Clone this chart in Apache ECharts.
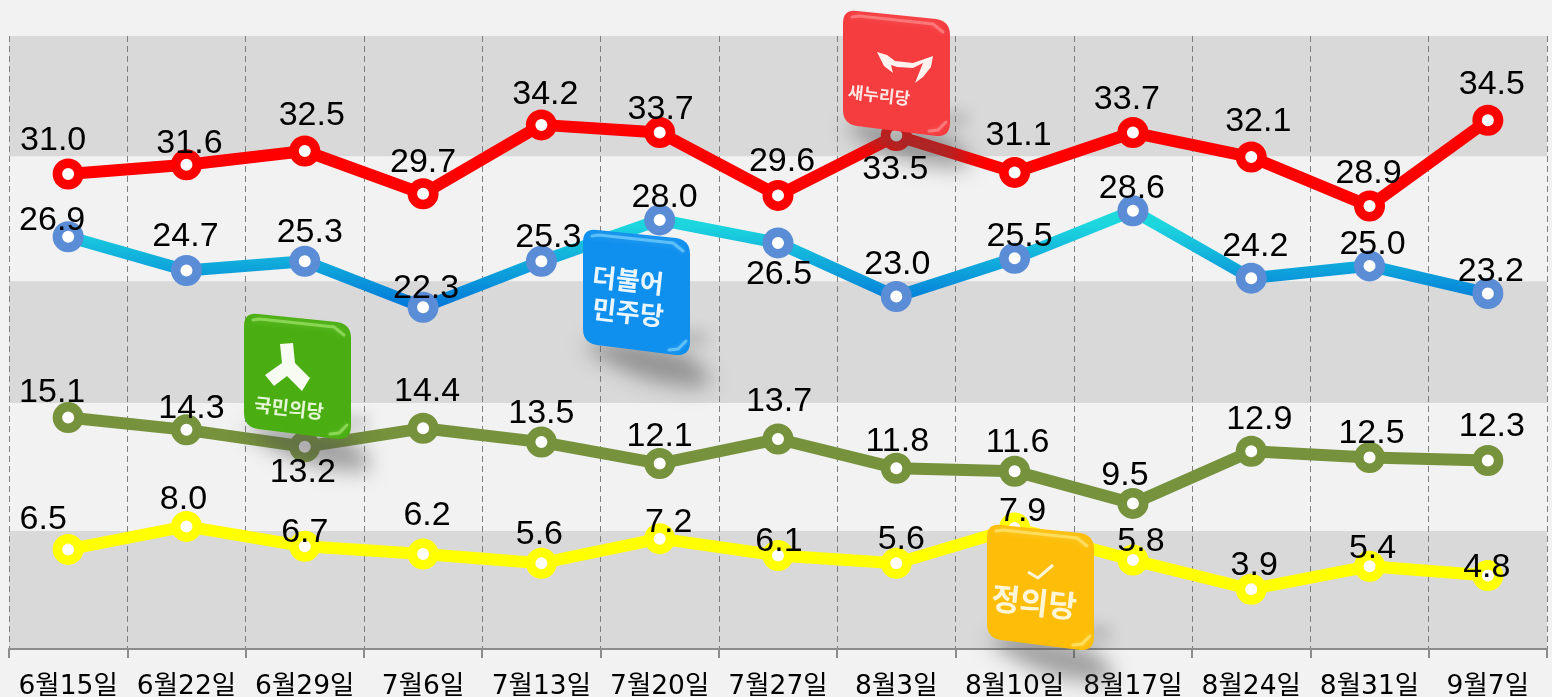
<!DOCTYPE html>
<html>
<head>
<meta charset="utf-8">
<style>
  html, body { margin: 0; padding: 0; background: #f2f2f2; }
  #myChart { width: 1552px; height: 697px; }
</style>
<script src="https://cdn.jsdelivr.net/npm/echarts@6/dist/echarts.min.js"></script>
</head>
<body>
<div id="myChart"></div>
<script>
// 날짜
var dates = ['6월15일', '6월22일', '6월29일', '7월6일', '7월13일', '7월20일', '7월27일', '8월3일', '8월10일', '8월17일', '8월24일', '8월31일', '9월7일']
// 정당 지지율
var saenuri = [31.0, 31.6, 32.5, 29.7, 34.2, 33.7, 29.6, 33.5, 31.1, 33.7, 32.1, 28.9, 34.5]
var minjoo = [26.9, 24.7, 25.3, 22.3, 25.3, 28.0, 26.5, 23.0, 25.5, 28.6, 24.2, 25.0, 23.2]
var kookmin = [15.1, 14.3, 13.2, 14.4, 13.5, 12.1, 13.7, 11.8, 11.6, 9.5, 12.9, 12.5, 12.3]
var justice = [6.5, 8.0, 6.7, 6.2, 5.6, 7.2, 6.1, 5.6, 7.9, 5.8, 3.9, 5.4, 4.8]
// 회색 배경 띠 구간 (값 기준)
var bandLow = [0, 16.05, 32.15]
var bandHigh = [7.7, 24, 40]

// 라벨 위치 보정 (점 중심 기준 px)
var saenuriOffset = [[-15, -33], [3, -21], [7, -35], [0, -31], [4, -30], [1, -23], [4, -34], [-1, 34], [4, -37], [-6, -33], [7, -35], [-1, -32], [4, -36]]
var minjooOffset = [[-16, -16], [-1, -34], [5, -29], [3, -19], [7, -24], [5, -22], [1, 32], [1, -32], [5, -22], [-1, -22], [4, -32], [3, -21], [3, -22]]
var kookminOffset = [[-16, -25], [5, -21], [-2, 26], [4, -37], [0, -28], [0, -27], [1, -37], [1, -27], [3, -29], [-8, -28], [8, -32], [2, -24], [4, -34]]
var justiceOffset = [[-25, -30], [-3, -27], [0, -14], [4, -38], [-2, -29], [9, -16], [1, -14], [5, -24], [8, -16], [8, -18], [3, -24], [3, -18], [-1, -8]]

// 선 + 마커
function lineSeries(name, values, lineColor, markColor) {
  return {
    name: name,
    type: 'line',
    data: values,
    z: 2,
    symbol: 'circle',
    symbolSize: 21.5,
    showAllSymbol: true,
    lineStyle: { color: lineColor, width: 12 },
    itemStyle: { color: '#fff', borderColor: markColor, borderWidth: 9.5, opacity: 1 },
    animation: false,
  }
}

// 로고 위에 올라오는 숫자 라벨
function labelSeries(values, offsets) {
  return {
    type: 'scatter',
    z: 10,
    symbolSize: 1,
    itemStyle: { color: 'transparent', opacity: 1 },
    animation: false,
    silent: true,
    data: values.map(function (v, i) {
      return { value: v, label: { offset: offsets[i] } }
    }),
    label: {
      show: true,
      position: 'inside',
      color: '#000',
      textBorderWidth: 0,
      fontFamily: 'Liberation Sans',
      fontSize: 34,
      formatter: function (p) {
        return p.value.toFixed(1)
      },
    },
  }
}

// 배경 띠
function bandSeries() {
  return {
    type: 'custom',
    z: -1,
    silent: true,
    data: bandLow.map(function (low, i) {
      return [low, bandHigh[i]]
    }),
    encode: { y: [0, 1] },
    renderItem: function (params, api) {
      var bottom = api.coord([0, api.value(0)])[1]
      var top = api.coord([0, api.value(1)])[1]
      return {
        type: 'rect',
        shape: { x: params.coordSys.x, y: top, width: params.coordSys.width, height: bottom - top },
        style: { fill: '#d9d9d9' },
      }
    },
  }
}

// 둥근 모서리 평행사변형
function badgePoints() {
  var ctrl = [
    [0, 14], [0, 0], [14, 2],
    [93, 10], [107, 12], [107, 26],
    [107, 114], [107, 128], [93, 127],
    [14, 117], [0, 115], [0, 101],
  ]
  var pts = []
  for (var i = 0; i < ctrl.length; i += 3) {
    for (var k = 0; k <= 6; k++) {
      var t = k / 6
      var a = (1 - t) * (1 - t), b = 2 * t * (1 - t), c = t * t
      pts.push([
        a * ctrl[i][0] + b * ctrl[i + 1][0] + c * ctrl[i + 2][0],
        a * ctrl[i][1] + b * ctrl[i + 1][1] + c * ctrl[i + 2][1],
      ])
    }
  }
  return pts
}

function badgeText(text, x, y, size, color) {
  return {
    type: 'text',
    x: x,
    y: y,
    rotation: -0.11,
    z: 6,
    style: {
      text: text,
      fill: color,
      textAlign: 'center',
      textVerticalAlign: 'middle',
      font: 'bold ' + size + 'px "Noto Sans CJK KR"',
    },
  }
}

function badge(x, y, color, topColor, children) {
  var items = [
    // 그림자 (도형은 화면 밖, 번진 그림자만 보이게)
    {
      type: 'polygon',
      x: -3000,
      z: 3,
      shape: { points: [[4, 116], [97, 124], [126, 156], [60, 150]], smooth: 0.4 },
      style: { fill: '#555', shadowBlur: 20, shadowOffsetX: 3000, shadowColor: 'rgba(80,80,80,0.5)' },
    },
    {
      type: 'polygon',
      x: -3000,
      z: 3,
      shape: { points: [[100, 100], [125, 104], [125, 116], [100, 118]] },
      style: { fill: '#555', shadowBlur: 14, shadowOffsetX: 3000, shadowColor: 'rgba(80,80,80,0.22)' },
    },
    {
      type: 'polygon',
      z: 4,
      shape: { points: badgePoints() },
      style: { fill: color },
    },
    // 윗면 하이라이트
    {
      type: 'polyline',
      z: 5,
      shape: { points: [[9, 8], [16, 7], [90, 15], [100, 23]] },
      style: { stroke: topColor, lineWidth: 3, fill: 'none', lineCap: 'round', shadowBlur: 6, shadowColor: topColor },
    },
    {
      type: 'polyline',
      z: 5,
      shape: { points: [[86, 122], [95, 121], [103, 113]] },
      style: { stroke: topColor, lineWidth: 3, fill: 'none', lineCap: 'round', shadowBlur: 4, shadowColor: topColor },
    },
  ]
  return { type: 'group', x: x, y: y, children: items.concat(children) }
}

var myChart = echarts.init(document.getElementById('myChart'))
myChart.setOption({
  backgroundColor: '#f2f2f2',
  animation: false,
  grid: { left: 9, right: 5, top: 36, bottom: 48, outerBoundsMode: 'none' },
  xAxis: {
    type: 'category',
    data: dates,
    axisLine: { lineStyle: { color: '#8c8c8c', width: 2 } },
    axisTick: { show: true, length: 9, lineStyle: { color: '#8c8c8c', width: 2 } },
    axisLabel: {
      interval: 0,
      margin: 25,
      color: '#000',
      fontSize: 26.5,
      fontFamily: '"DejaVu Sans", "Noto Sans CJK KR"',
    },
    splitLine: { show: true, interval: 0, lineStyle: { color: '#7f7f7f', type: [6, 4], width: 1 } },
  },
  yAxis: {
    type: 'value',
    min: 0,
    max: 40,
    interval: 8,
    axisLine: { show: false },
    axisTick: { show: false },
    axisLabel: { show: false },
    splitLine: { show: false },
  },
  series: [
    bandSeries(),
    lineSeries('새누리당', saenuri, '#ff0000', '#ff0000'),
    lineSeries('더불어민주당', minjoo, new echarts.graphic.LinearGradient(0, 0, 0, 1, [
      { offset: 0, color: '#1ce0d8' },
      { offset: 0.2, color: '#1cd4de' },
      { offset: 1, color: '#0070d8' },
    ]), '#5b8cd6'),
    lineSeries('국민의당', kookmin, '#76923c', '#76923c'),
    lineSeries('정의당', justice, '#ffff00', '#ffff00'),
    labelSeries(saenuri, saenuriOffset),
    labelSeries(minjoo, minjooOffset),
    labelSeries(kookmin, kookminOffset),
    labelSeries(justice, justiceOffset),
  ],
  // 정당 로고
  graphic: [
    badge(843, 9, '#f53c3f', 'rgba(255,170,170,0.5)', [
      {
        type: 'polygon',
        z: 6,
        shape: { points: [[34, 43], [44, 46], [52, 52], [70, 54], [90, 47], [88, 58], [80, 68], [72, 74], [76, 64], [80, 54], [70, 59], [54, 58], [48, 56], [50, 64], [41, 57]] },
        style: { fill: '#fff2ee' },
      },
      badgeText('새누리당', 36, 86, 17, '#ffe6e2'),
    ]),
    badge(583, 228, '#0f8fee', 'rgba(150,225,255,0.55)', [
      badgeText('더불어', 45, 52, 26, '#eaf6ff'),
      badgeText('민주당', 45, 84, 26, '#eaf6ff'),
    ]),
    badge(244, 312, '#4aae12', 'rgba(180,240,130,0.55)', [
      {
        type: 'polygon',
        z: 6,
        shape: { points: [[36, 32], [49, 31], [51, 51], [66, 66], [58, 79], [43, 64], [30, 74], [21, 63], [38, 51]] },
        style: { fill: '#f7fbf2' },
      },
      badgeText('국민의당', 45, 96, 19, '#e4f6d4'),
    ]),
    badge(987, 523, '#fdbd08', 'rgba(255,235,130,0.65)', [
      {
        type: 'polyline',
        z: 6,
        shape: { points: [[41, 49], [51, 55], [66, 42]] },
        style: { stroke: '#fff6d8', lineWidth: 3, fill: 'none' },
      },
      badgeText('정의당', 47, 79, 31, '#fff6d8'),
    ]),
  ],
})
</script>
</body>
</html>
